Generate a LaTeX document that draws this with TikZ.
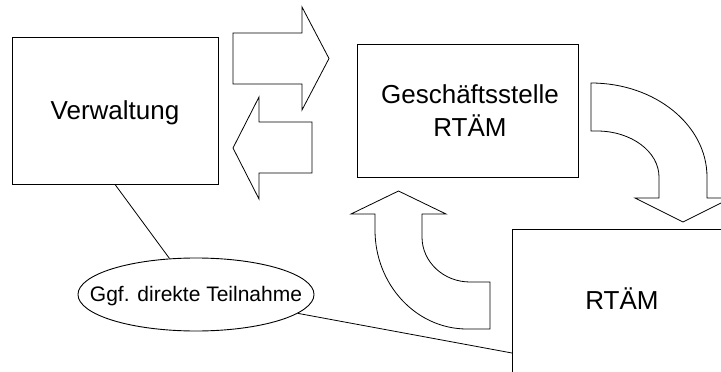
\documentclass[tikz,border=0pt]{standalone}
\usepackage{fontspec}
\setmainfont{Liberation Sans}
\usetikzlibrary{shapes.geometric}
\begin{document}
\begin{tikzpicture}[x=1pt,y=-1pt,
  box/.style={draw=black,line width=0.9pt,rectangle,inner sep=0pt},
  lbl/.style={anchor=base,inner sep=0pt,font=\fontsize{26}{30}\selectfont},
  blk/.style={draw=black,line width=0.8pt,line join=miter},
  conn/.style={draw=black,line width=0.8pt}]
\useasboundingbox (0,0) rectangle (721,372);
\clip (0,0) rectangle (721,372);
% boxes
\node[box,minimum width=206pt,minimum height=147pt] (verw) at (115,110.5) {};
\node[lbl] (verwt) at (115,119) {Verwaltung};
\node[box,minimum width=221pt,minimum height=133pt] (gs) at (467.5,110.5) {};
\node[lbl] (gst1) at (470,103) {Geschäftsstelle};
\node[lbl] (gst2) at (470,136) {RTÄM};
\node[box,minimum width=218pt,minimum height=151pt] (rtam) at (621,304.5) {};
\node[lbl] (rtamt) at (622,309) {RTÄM};
\node[draw=black,line width=0.9pt,ellipse,inner sep=0pt,minimum width=236pt,minimum height=73pt] (ell) at (196,294.5) {};
\node[anchor=base,inner sep=0pt,font=\fontsize{21}{24}\selectfont] (ellt) at (196,301) {Ggf. direkte Teilnahme};
% connectors
\coordinate (rl) at (512,353);
\draw[conn] (verw.south) -- (ell);
\draw[conn] (ell) -- (rl);
% straight block arrows
\draw[blk] (233,33) -- (302,33) -- (302,7) -- (329,58.5) -- (302,110) -- (302,84) -- (233,84) -- cycle;
\draw[blk] (312,122) -- (259,122) -- (259,97) -- (233,148) -- (259,199) -- (259,173) -- (312,173) -- cycle;
% curved arrow down
\draw[blk] (591,83) arc[start angle=-90,end angle=0,x radius=116,y radius=94]
  -- (707,198) -- (731,198) -- (683,222) -- (635,198) -- (659,198) -- (659,177)
  arc[start angle=0,end angle=-90,x radius=62,y radius=46] -- (591,131) -- cycle;
% curved arrow up
\draw[blk] (398.5,191) -- (446,214) -- (422,214) -- (422,237)
  arc[start angle=180,end angle=90,x radius=48,y radius=45] -- (490,282) -- (490,329) -- (467,329)
  arc[start angle=90,end angle=180,x radius=92,y radius=99] -- (375,214) -- (351,214) -- cycle;
\end{tikzpicture}
\end{document}
